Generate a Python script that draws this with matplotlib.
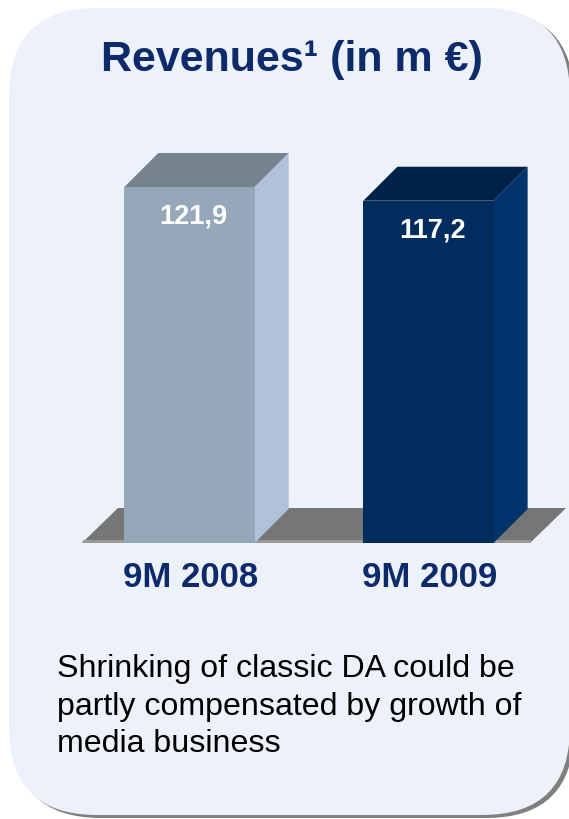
import matplotlib
matplotlib.use('Agg')
import matplotlib.pyplot as plt
from matplotlib.patches import FancyBboxPatch, Polygon

plt.rcParams['font.family'] = ['Liberation Sans', 'DejaVu Sans']

# dados do gráfico
categorias = ['9M 2008', '9M 2009']
receitas = [121.9, 117.2]
titulo = 'Revenues¹ (in m €)'
texto = ['Shrinking of classic DA could be',
         'partly compensated by growth of',
         'media business']

# cores (frente, lado, topo) de cada barra
cor_frente = ['#97A7BA', '#002D5E']
cor_lado = ['#B0C1D9', '#00346C']
cor_topo = ['#77828F', '#002247']
azul = '#0D2A6B'

W, H = 569, 819
fig = plt.figure(figsize=(W / 100, H / 100), dpi=100)
fig.patch.set_facecolor('white')

# fundo arredondado com sombra (coordenadas em pixels)
bg = fig.add_axes([0, 0, 1, 1])
bg.set_xlim(0, W)
bg.set_ylim(H, 0)
bg.axis('off')
sombra = FancyBboxPatch((13, 11), 561, 807, boxstyle='round,pad=0,rounding_size=88',
                        facecolor='#808080', edgecolor='none')
caixa = FancyBboxPatch((9, 8), 561, 807, boxstyle='round,pad=0,rounding_size=88',
                       facecolor='#EDF1F9', edgecolor='none')
bg.add_patch(sombra)
bg.add_patch(caixa)

# eixo das barras
px_unid = 356 / 121.9  # pixels por unidade
ax = fig.add_axes([70 / W, (H - 543) / H, 478 / W, 140 * px_unid / H])
ax.set_xlim(-0.5, 1.5)
ax.set_ylim(0, 140)
ax.axis('off')

larg = 0.545
dx = 34 / 478 * 2.0
dy = 34 / px_unid

# piso
fx0, fx1 = -0.45, 1.425
fdx, fdy = 36 / 478 * 2.0, 35 / px_unid
piso = Polygon([(fx0, 0), (fx1, 0), (fx1 + fdx, fdy), (fx0 + fdx, fdy)],
               closed=True, facecolor='#767676', edgecolor='none', zorder=1, clip_on=False)
ax.add_patch(piso)
borda = Polygon([(fx0, 0), (fx1, 0), (fx1 + 0.006, 3 / px_unid), (fx0 + 0.006, 3 / px_unid)],
                closed=True, facecolor='#9A9A9A', edgecolor='none', zorder=1, clip_on=False)
ax.add_patch(borda)

barras = ax.bar(range(len(categorias)), receitas, width=larg, color=cor_frente, zorder=3)

for i, (b, v) in enumerate(zip(barras, receitas)):
    x0 = b.get_x()
    x1 = x0 + b.get_width()
    lado = Polygon([(x1, 0), (x1 + dx, dy), (x1 + dx, v + dy), (x1, v)],
                   closed=True, facecolor=cor_lado[i], edgecolor='none', zorder=2)
    topo = Polygon([(x0, v), (x1, v), (x1 + dx, v + dy), (x0 + dx, v + dy)],
                   closed=True, facecolor=cor_topo[i], edgecolor='none', zorder=2)
    ax.add_patch(lado)
    ax.add_patch(topo)
    ax.annotate(f'{v:.1f}'.replace('.', ','), (i, v), xytext=(4, -37), textcoords='offset pixels',
                ha='center', va='baseline', color='white', fontsize=19.5, fontweight='bold', zorder=4)
    ax.annotate(categorias[i], (i, 0), xytext=(1, -44), textcoords='offset pixels',
                ha='center', va='baseline', color=azul, fontsize=25, fontweight='bold',
                annotation_clip=False)

fig.text(292 / W, 1 - 71 / H, titulo, ha='center', va='baseline', color=azul,
         fontsize=31, fontweight='bold')

for k, linha in enumerate(texto):
    fig.text(57 / W, 1 - (677 + 37.5 * k) / H, linha, ha='left', va='baseline',
             color='black', fontsize=23.1)

fig.savefig('out.png', dpi=100, facecolor=fig.get_facecolor())
